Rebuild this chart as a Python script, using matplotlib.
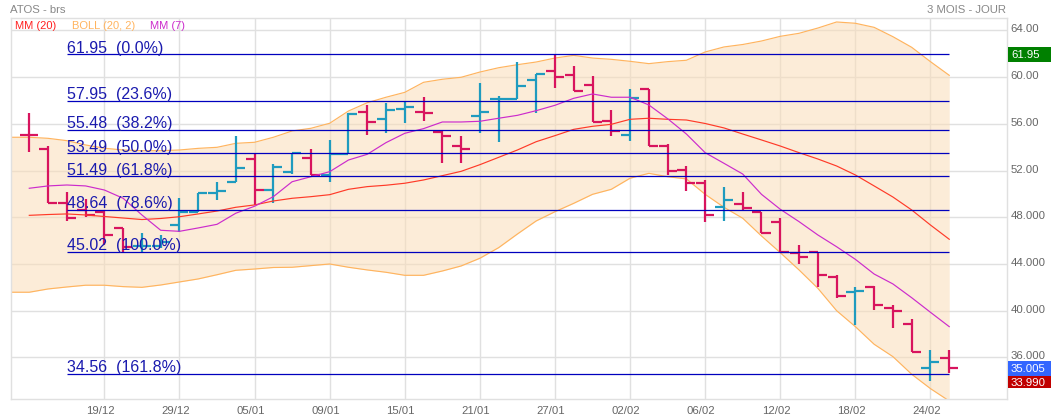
import matplotlib
matplotlib.use("Agg")
import matplotlib.pyplot as plt
from matplotlib.patches import Rectangle
from matplotlib.transforms import ScaledTranslation, IdentityTransform

plt.rcParams['font.family'] = ['Liberation Sans', 'DejaVu Sans']

opens = [55.05,53.87,49.24,48.62,48.47,47.10,45.53,45.53,47.33,48.47,50.05,51.04,52.99,50.33,51.90,53.10,51.62,53.42,
         57.04,56.42,57.27,57.04,55.33,54.10,56.67,58.10,58.16,59.76,60.56,60.21,59.36,56.27,55.05,59.01,54.13,52.07,
         50.96,48.90,49.16,48.47,47.62,44.93,44.99,42.85,41.59,42.00,40.25,38.87,35.10,35.96]
highs = [56.93,54.10,50.19,49.55,48.60,47.10,46.65,46.48,49.65,50.10,51.04,54.96,53.42,52.53,53.53,53.82,54.62,56.93,
         57.62,57.76,57.96,58.27,55.47,54.93,59.48,58.39,61.27,60.30,61.95,60.96,60.10,57.19,58.96,59.01,54.25,52.36,
         51.16,50.56,50.13,48.47,47.96,45.59,44.99,43.02,42.02,42.10,40.47,39.25,36.62,36.62]
lows = [53.56,49.24,47.67,48.04,45.62,45.00,45.00,45.36,46.76,48.47,49.48,51.04,49.05,49.20,51.70,51.62,51.04,53.40,
        55.05,55.24,56.10,56.27,52.62,52.62,55.24,54.47,58.10,56.90,59.10,58.82,56.19,54.96,54.56,54.10,51.62,50.27,
        47.62,47.71,48.56,46.65,45.05,44.02,42.04,41.05,38.77,40.05,38.53,36.45,34.00,34.67]
closes = [55.05,49.24,47.96,48.19,46.48,45.47,45.53,45.90,48.47,50.10,50.25,52.25,50.33,52.33,53.53,51.62,53.42,56.85,
          56.19,57.19,57.47,56.96,54.96,53.87,57.04,58.16,59.25,60.30,60.04,58.82,56.19,55.41,58.24,54.10,51.96,50.96,
          48.19,49.50,48.79,46.65,45.05,44.60,43.07,41.25,41.70,40.50,39.96,36.45,35.58,35.10]
# bar colour is carried by the feed: teal for the up days, crimson for the down days
up_days = [6,7,8,9,10,11,13,14,16,17,19,20,24,25,26,27,32,37,44,48]

boll_upper = [54.85,54.76,54.56,54.19,53.91,53.76,53.70,53.70,53.76,53.90,53.99,54.33,54.42,54.85,55.39,55.62,56.05,57.10,
              57.81,58.28,58.70,59.56,59.82,59.99,60.44,60.81,61.07,61.30,61.64,61.87,61.64,61.53,61.36,61.16,61.33,61.45,
              62.16,62.59,62.80,63.10,63.50,63.76,64.21,64.73,64.62,64.27,63.47,62.56,61.33,60.16]
boll_lower = [41.57,41.85,42.02,42.17,42.17,42.05,41.99,42.19,42.45,42.71,43.07,43.45,43.56,43.69,43.71,43.85,43.99,43.71,
              43.48,43.28,43.02,43.02,43.39,43.82,44.48,45.39,46.56,47.68,48.47,49.19,49.96,50.39,51.34,51.76,51.47,51.28,
              49.96,48.85,47.91,46.39,44.96,43.48,41.91,39.99,38.62,37.11,36.05,34.54,33.31,32.25]
mm20 = [48.16,48.23,48.28,48.19,48.06,47.93,47.80,47.89,48.04,48.28,48.53,48.85,49.05,49.39,49.62,49.76,49.93,50.39,
        50.62,50.74,50.91,51.19,51.56,51.93,52.50,53.13,53.76,54.47,54.99,55.53,55.79,55.96,56.39,56.48,56.39,56.33,
        56.03,55.65,55.13,54.62,54.10,53.53,52.99,52.39,51.62,50.68,49.73,48.62,47.33,46.11]
mm7 = [50.48,50.68,50.76,50.68,50.33,49.62,48.19,46.88,46.79,47.08,47.39,48.34,48.94,49.76,51.04,51.47,51.90,52.90,
       53.39,54.39,55.19,55.59,56.16,56.16,56.22,56.48,56.73,57.13,57.59,58.19,58.56,58.28,58.28,57.62,56.44,55.13,
       53.53,52.62,51.70,49.96,48.68,47.62,46.48,45.47,44.39,43.13,42.28,41.10,39.85,38.62]

fib_levels = [61.95,57.95,55.48,53.49,51.49,48.64,45.02,34.56]
fib_pcts = ['0.0%','23.6%','38.2%','50.0%','61.8%','78.6%','100.0%','161.8%']

date_idx = [4,8,12,16,20,24,28,32,36,40,44,48]
date_labels = ['19/12','29/12','05/01','09/01','15/01','21/01','27/01','02/02','06/02','12/02','18/02','24/02']
price_ticks = [64,60,56,52,48,44,40,36]
price_labels = ['64.00','60.00','56.00','52.00','48.000','44.000','40.000','36.000']

W, H = 1051, 420
L, R, T, B = 10.5, 1006.5, 17.5, 399.0
fig = plt.figure(figsize=(W/100, H/100), dpi=100, facecolor='white')
ax = fig.add_axes([L/W, (H-B)/H, (R-L)/W, (B-T)/H])
ax.set_xlim(-1.0, 52.05)
ax.set_ylim(32.42, 65.114)

GREY = '#E0E0E0'
for s in ax.spines.values():
    s.set_color(GREY); s.set_linewidth(1.0)
ax.set_xticks(date_idx); ax.set_xticklabels(date_labels)
ax.set_yticks(price_ticks); ax.set_yticklabels(price_labels)
ax.yaxis.tick_right()
ax.tick_params(axis='both', length=0, labelsize=8.2, labelcolor='#666666')
ax.tick_params(axis='x', pad=5)
ax.tick_params(axis='y', pad=3)
ax.grid(True, color=GREY, linewidth=1.0, zorder=0)
ax.set_axisbelow(True)
dpi = fig.dpi_scale_trans
for lab in ax.get_xticklabels():
    lab.set_transform(lab.get_transform() + ScaledTranslation(-4/100, 0, dpi))
for lab in ax.get_yticklabels():
    lab.set_transform(lab.get_transform() + ScaledTranslation(0, 2/100, dpi))

xs = list(range(len(opens)))
band_x = [-1] + xs
band_up = [boll_upper[0]] + boll_upper
band_lo = [boll_lower[0]] + boll_lower
ax.fill_between(band_x, band_lo, band_up, color='#FBDDB8', alpha=0.55, linewidth=0, zorder=1)
ax.plot(band_x, band_up, color='#FFB45F', lw=0.85, zorder=2)
ax.plot(band_x, band_lo, color='#FFB45F', lw=0.85, zorder=2)
ax.vlines(-1, boll_lower[0], boll_upper[0], color='#F5C98E', lw=1.4, zorder=2)

TEAL, CRIM = '#1F9BBF', '#D8145E'
tick = 0.48
for i, (o, h, l, c) in enumerate(zip(opens, highs, lows, closes)):
    col = TEAL if i in up_days else CRIM
    ax.vlines(i, l, h, color=col, lw=1.6, zorder=3)
    ax.hlines(o, i-tick, i, color=col, lw=1.6, zorder=3)
    ax.hlines(c, i, i+tick, color=col, lw=1.6, zorder=3)

ax.plot(xs, mm20, color='#FF3A28', lw=0.85, zorder=4)
ax.plot(xs, mm7, color='#CC2BCC', lw=0.85, zorder=4)

FIB_LINE, FIB_TEXT = '#0000BE', '#1A1AAE'
for lvl, pct in zip(fib_levels, fib_pcts):
    ax.hlines(lvl, 2, 49, color=FIB_LINE, lw=0.9, zorder=5)
    ax.text(2, lvl, f'{lvl:.2f}  ({pct})', color=FIB_TEXT, fontsize=11.5, ha='left', va='baseline',
            zorder=6, transform=ax.transData + ScaledTranslation(0, 1.6/100, dpi))

def px_text(x, y, s, **kw):
    fig.text(x/W, 1-y/H, s, **kw)

px_text(10, 13, 'ATOS - brs', color='#888888', fontsize=8.2, ha='left', va='baseline')
px_text(1006, 13, '3 MOIS - JOUR', color='#888888', fontsize=8.2, ha='right', va='baseline')
px_text(15, 29, 'MM (20)', color='#FF2020', fontsize=8, ha='left', va='baseline')
px_text(72, 29, 'BOLL (20, 2)', color='#FFB45F', fontsize=8, ha='left', va='baseline')
px_text(150, 29, 'MM (7)', color='#CC2BCC', fontsize=8, ha='left', va='baseline')

def tag(top, bottom, s, col):
    fig.add_artist(Rectangle((1008, H-bottom), 43, bottom-top, transform=IdentityTransform(),
                             facecolor=col, edgecolor='none', zorder=8))
    px_text(1011, (top+bottom)/2+0.5, s, color='white', fontsize=8.2, ha='left', va='center', zorder=9)

tag(47.3, 61.7, '61.95', '#008000')
tag(361, 376, '35.005', '#3366FF')
tag(376, 388, '33.990', '#C00000')

fig.savefig('out.png', dpi=100)
